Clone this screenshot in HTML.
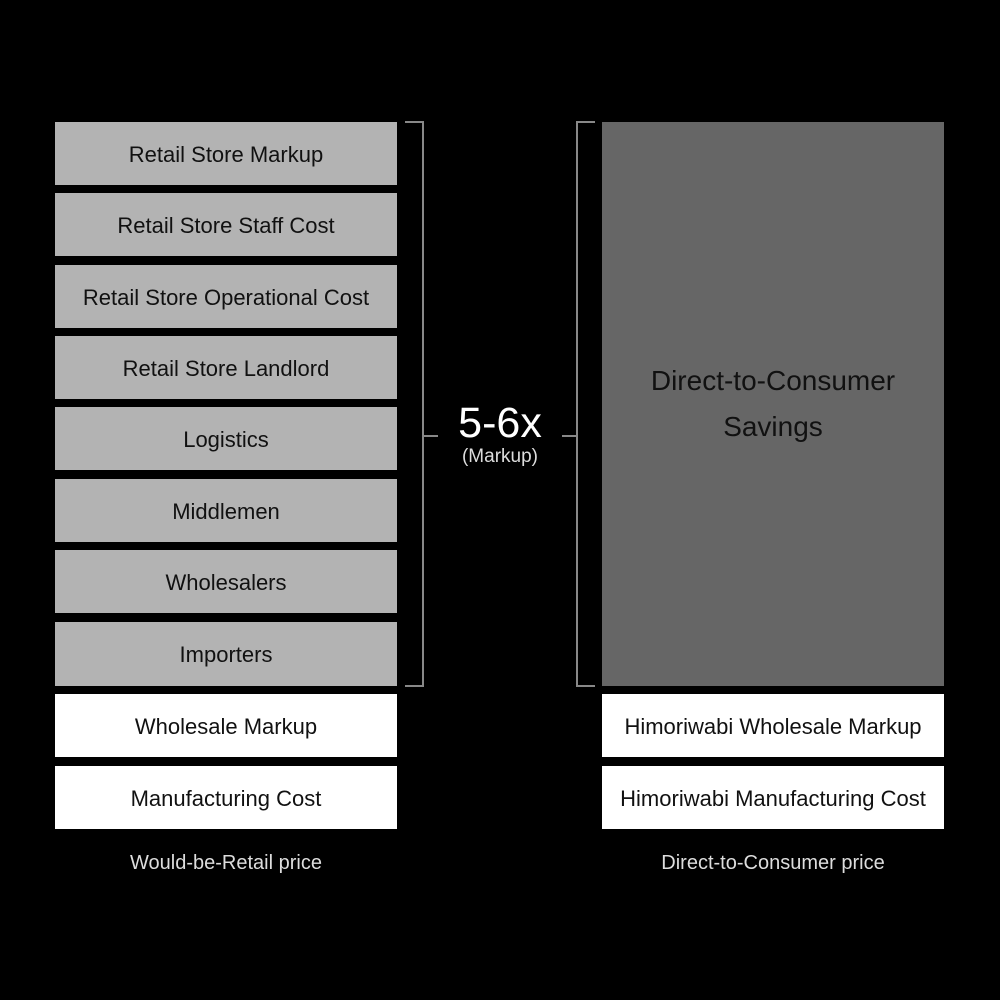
<!DOCTYPE html>
<html><head><style>
body{margin:0;background:#000;width:1000px;height:1000px;position:relative;overflow:hidden;font-family:"Liberation Sans",sans-serif}
.b{position:absolute;left:55px;width:342px;height:63px;background:#b3b3b3;color:#111;font-size:22px;display:flex;align-items:center;justify-content:center}
.b span{display:inline-block;white-space:nowrap;position:relative;top:1px}
.w{background:#fff}
.r{left:602px}
.l{position:absolute;background:#888}
.cap{position:absolute;color:#ddd;font-size:20px;width:342px;text-align:center}
</style></head><body>
<div class="b" style="top:122px"><span>Retail Store Markup</span></div>
<div class="b" style="top:193px"><span>Retail Store Staff Cost</span></div>
<div class="b" style="top:265px"><span>Retail Store Operational Cost</span></div>
<div class="b" style="top:336px"><span>Retail Store Landlord</span></div>
<div class="b" style="top:407px"><span>Logistics</span></div>
<div class="b" style="top:479px"><span>Middlemen</span></div>
<div class="b" style="top:550px"><span>Wholesalers</span></div>
<div class="b" style="top:622px;height:64px"><span>Importers</span></div>
<div class="b w" style="top:694px"><span>Wholesale Markup</span></div>
<div class="b w" style="top:766px"><span>Manufacturing Cost</span></div>
<div class="b" style="left:602px;top:122px;height:564px;background:#666;font-size:28px;line-height:46px;text-align:center;align-items:flex-start"><span style="margin-top:235px">Direct-to-Consumer<br>Savings</span></div>
<div class="b w r" style="top:694px"><span>Himoriwabi Wholesale Markup</span></div>
<div class="b w r" style="top:766px"><span>Himoriwabi Manufacturing Cost</span></div>
<div class="l" style="left:405px;top:121px;width:19px;height:2px"></div>
<div class="l" style="left:422px;top:121px;width:2px;height:566px"></div>
<div class="l" style="left:405px;top:685px;width:19px;height:2px"></div>
<div class="l" style="left:422px;top:435px;width:16px;height:2px"></div>
<div class="l" style="left:576px;top:121px;width:19px;height:2px"></div>
<div class="l" style="left:576px;top:121px;width:2px;height:566px"></div>
<div class="l" style="left:576px;top:685px;width:19px;height:2px"></div>
<div class="l" style="left:562px;top:435px;width:16px;height:2px"></div>
<div style="position:absolute;left:438px;width:124px;top:398px;text-align:center;color:#fff;font-size:43px;line-height:50px">5-6x</div>
<div style="position:absolute;left:438px;width:124px;top:446px;text-align:center;color:#ddd;font-size:19px">(Markup)</div>
<div class="cap" style="left:55px;top:852px">Would-be-Retail price</div>
<div class="cap" style="left:602px;top:852px">Direct-to-Consumer price</div>
</body></html>
